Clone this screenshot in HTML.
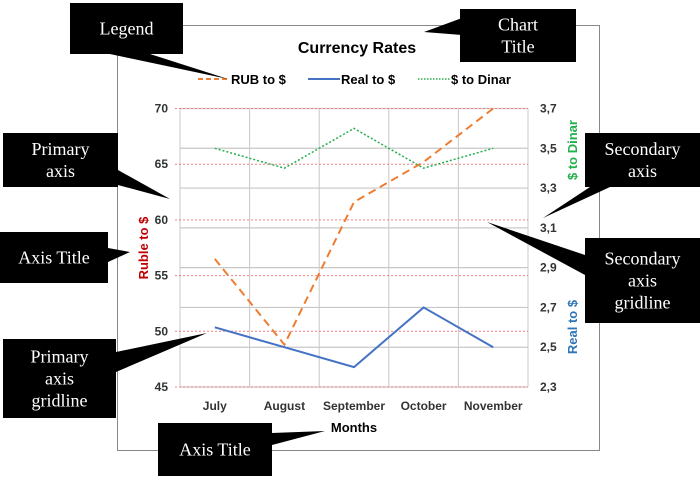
<!DOCTYPE html>
<html><head><meta charset="utf-8"><style>
html,body{margin:0;padding:0;background:#fff;}
svg{display:block;font-family:"Liberation Sans",sans-serif;}
.cl{font-family:"Liberation Serif",serif;fill:#fff;font-size:18px;text-anchor:middle;}
</style></head><body>
<svg width="700" height="478" viewBox="0 0 700 478">
<rect x="117.5" y="25.5" width="482" height="425" fill="#fff" stroke="#888"/>
<text x="357" y="53" font-size="16" font-weight="bold" text-anchor="middle">Currency Rates</text>
<g id="legend"></g>
<g id="plot"></g>
<g id="callouts"></g>
</svg>
<script>
const categories=["July","August","September","October","November"];
const rubValues=[56.5,48.8,61.6,65.2,70];
const realValues=[2.6,2.5,2.4,2.7,2.5];
const dinarValues=[3.5,3.4,3.6,3.4,3.5];
const primaryTicks=[45,50,55,60,65,70];
const secondaryTicks=[2.3,2.5,2.7,2.9,3.1,3.3,3.5,3.7];

const NS="http://www.w3.org/2000/svg";
const L=180,R=528,T=108.5,B=387;
const yP=v=>B-(v-45)/(70-45)*(B-T);
const yS=v=>B-(v-2.3)/(3.7-2.3)*(B-T);
const bw=(R-L)/categories.length;
const xC=i=>L+bw*(i+0.5);
function mk(tag,attrs,parent){const e=document.createElementNS(NS,tag);for(const k in attrs)e.setAttribute(k,attrs[k]);(parent||document.getElementById('plot')).appendChild(e);return e;}
const plot=document.getElementById('plot');

// vertical gridlines
for(let i=0;i<=categories.length;i++){
  const g=mk('line',{x1:L+bw*i,x2:L+bw*i,y1:T,y2:B,stroke:'#c8c8c8','stroke-width':1});
  
  
}
// secondary gridlines
secondaryTicks.forEach(v=>{
  const g=mk('line',{x1:L,x2:R,y1:yS(v),y2:yS(v),stroke:'#c8c8c8','stroke-width':1.2});
  
  
  const t=mk('text',{x:R+12,y:yS(v)+4,'font-size':12,'font-weight':'bold',fill:'#333'});
  t.textContent=v.toFixed(1).replace('.',',');
  
  
});
// primary gridlines
primaryTicks.forEach(v=>{
  const g=mk('line',{x1:L-5,x2:R,y1:yP(v),y2:yP(v),stroke:'#f08080','stroke-width':1,'stroke-dasharray':'2,2'});
  
  
  const t=mk('text',{x:168,y:yP(v)+4,'font-size':12,'font-weight':'bold',fill:'#333','text-anchor':'end'});
  t.textContent=v;
  
  
});
categories.forEach((c,i)=>{
  const t=mk('text',{x:xC(i),y:410,'font-size':12,'font-weight':'bold',fill:'#333','text-anchor':'middle'});
  t.textContent=c;
  
  
});
function series(vals,yf,attrs,name){
  const p=mk('polyline',Object.assign({points:vals.map((v,i)=>xC(i)+','+yf(v)).join(' '),fill:'none'},attrs));
  
  
}
series(dinarValues,yS,{stroke:'#22b04c','stroke-width':1.5,'stroke-dasharray':'2,2'},'dinar-series-line');
series(rubValues,yP,{stroke:'#ed7d31','stroke-width':2,'stroke-dasharray':'8,5'},'rub-series-line');
series(realValues,yS,{stroke:'#4472c4','stroke-width':2},'real-series-line');

// axis titles
let t=mk('text',{x:354,y:432,'font-size':13,'font-weight':'bold','text-anchor':'middle'});t.textContent='Months';


t=mk('text',{transform:'translate(148,248) rotate(-90)','font-size':13,'font-weight':'bold',fill:'#c00000','text-anchor':'middle'});t.textContent='Ruble to $';


t=mk('text',{transform:'translate(577,150) rotate(-90)','font-size':13,'font-weight':'bold',fill:'#22b04c','text-anchor':'middle'});t.textContent='$ to Dinar';


t=mk('text',{transform:'translate(577,327) rotate(-90)','font-size':13,'font-weight':'bold',fill:'#2e75b6','text-anchor':'middle'});t.textContent='Real to $';



// legend
const lg=document.getElementById('legend');
[[198,'RUB to $','#ed7d31','5,3',2],[308,'Real to $','#4472c4','',2],[418,'$ to Dinar','#22b04c','1.5,1.5',1.5]].forEach(d=>{
  const l=mk('line',{x1:d[0],x2:d[0]+32,y1:79,y2:79,stroke:d[2],'stroke-width':d[4],'stroke-dasharray':d[3]},lg);
  
  
  const tx=mk('text',{x:d[0]+33,y:84,'font-size':13,'font-weight':'bold'},lg);tx.textContent=d[1];
  
  
});

// callouts
const cg=document.getElementById('callouts');
function callout(x,y,w,h,tip,base,lines,name){
  const g=mk('g',{},cg);
  
  
  mk('polygon',{points:base.concat(tip).map(p=>p.join(',')).join(' '),fill:'#000'},g);
  mk('rect',{x:x,y:y,width:w,height:h,fill:'#000'},g);
  const lh=22, y0=y+h/2-(lines.length-1)*lh/2+6;
  lines.forEach((s,i)=>{const tx=mk('text',{x:x+w/2,y:y0+i*lh,class:'cl'},g);tx.textContent=s;});
}
callout(70,3,113,51,[[228,79]],[[110,54],[150,54]],['Legend'],'legend-callout');
callout(460,9,116,53,[[424,32]],[[462,18],[462,35]],['Chart','Title'],'chart-title-callout');
callout(3,133,115,54,[[170,199]],[[118,170],[118,185]],['Primary','axis'],'primary-axis-callout');
callout(0,232,108,51,[[130,252]],[[108,248],[108,262]],['Axis Title'],'y-axis-title-callout');
callout(3,339,113,79,[[207,333]],[[116,352],[116,372]],['Primary','axis','gridline'],'primary-gridline-callout');
callout(158,423,114,53,[[325,431]],[[272,433],[272,445]],['Axis Title'],'x-axis-title-callout');
callout(585,133,115,54,[[543,218]],[[590,187],[610,187]],['Secondary','axis'],'secondary-axis-callout');
callout(585,238,115,85,[[487,222]],[[585,255],[585,275]],['Secondary','axis','gridline'],'secondary-gridline-callout');
</script>
</body></html>
